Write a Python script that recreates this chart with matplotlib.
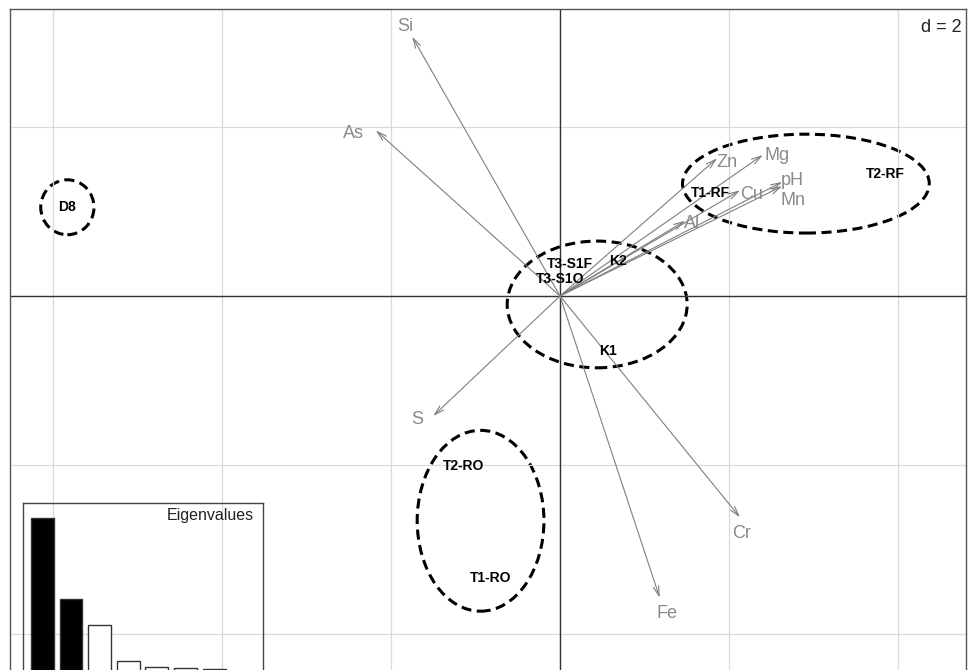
import matplotlib
matplotlib.use("Agg")
import matplotlib.pyplot as plt
from matplotlib.patches import Ellipse

plt.rcParams["font.family"] = ["Liberation Sans", "DejaVu Sans"]

# variable loadings (arrow tips)
variables = ["Si", "As", "Zn", "Mg", "pH", "Mn", "Cu", "Al", "S", "Fe", "Cr"]
var_x = [-1.75, -2.18, 1.86, 2.40, 2.63, 2.63, 2.13, 1.48, -1.50, 1.18, 2.13]
var_y = [3.07, 1.96, 1.63, 1.67, 1.35, 1.30, 1.25, 0.89, -1.42, -3.57, -2.62]

# sample scores
samples = ["D8", "T1-RF", "T2-RF", "T3-S1F", "T3-S1O", "K2", "K1", "T2-RO", "T1-RO"]
samp_x = [-5.83, 1.78, 3.85, 0.12, 0.00, 0.69, 0.57, -1.14, -0.82]
samp_y = [1.05, 1.22, 1.44, 0.38, 0.20, 0.41, -0.65, -2.01, -3.34]

# group ellipses: centre, width, height
ell_x = [-5.83, 2.91, 0.44, -0.94]
ell_y = [1.05, 1.33, -0.10, -2.66]
ell_w = [0.63, 2.92, 2.13, 1.50]
ell_h = [0.65, 1.17, 1.50, 2.14]

eigenvalues = [3.34, 1.72, 1.20, 0.48, 0.36, 0.35, 0.32]
n_kept = 2

# label offsets (pixels) from the arrow tips
lab_off = {"Si": (-7, 10), "As": (-22, -3), "Zn": (10, -4), "Mg": (14, -1),
           "pH": (10, 1), "Mn": (11, -14), "Cu": (12, -4), "Al": (7, -3),
           "S": (-16, -4), "Fe": (7, -16), "Cr": (2, -16)}

W, H = 971, 670
fig = plt.figure(figsize=(W / 100, H / 100), dpi=100)

# main panel, lower edge runs off the figure
left, right, top, bottom = 10, 966, 9, 690
ox, oy, unit = 560, 296, 84.5
ax = fig.add_axes([left / W, (H - bottom) / H, (right - left) / W, (bottom - top) / H])
ax.set_xlim((left - ox) / unit, (right - ox) / unit)
ax.set_ylim((oy - bottom) / unit, (oy - top) / unit)
ax.set_xticks([-6, -4, -2, 0, 2, 4])
ax.set_yticks([-4, -2, 0, 2])
ax.grid(True, color="#dadada", lw=0.9)
ax.tick_params(length=0, labelbottom=False, labelleft=False)
for s in ax.spines.values():
    s.set_color("#555555")
    s.set_linewidth(1.0)
ax.axhline(0, color="#333333", lw=1.0)
ax.axvline(0, color="#333333", lw=1.0)

for name, x, y in zip(variables, var_x, var_y):
    ax.annotate("", xy=(x, y), xytext=(0, 0),
                arrowprops=dict(arrowstyle="->,head_length=0.7,head_width=0.2",
                                color="#7f7f7f", lw=0.8, shrinkA=0, shrinkB=0))
    ax.annotate(name, xy=(x, y), xytext=lab_off[name], textcoords="offset pixels",
                ha="center", va="center", fontsize=13, color="#8a8a8a")

for cx, cy, w, h in zip(ell_x, ell_y, ell_w, ell_h):
    ax.add_patch(Ellipse((cx, cy), w, h, fill=False, ec="black", lw=2.2,
                         ls=(0, (3.3, 1.8))))

for name, x, y in zip(samples, samp_x, samp_y):
    ax.text(x, y, name, ha="center", va="center", fontsize=10,
            fontweight="bold", color="black")

ax.text(0.995, 0.985, "d = 2", transform=ax.transAxes, ha="right", va="top",
        fontsize=13, color="#222222",
        bbox=dict(facecolor="white", edgecolor="none", pad=1.5))

# eigenvalue inset
il, ir, it, ib = 23, 263, 503, 690
ins = fig.add_axes([il / W, (H - ib) / H, (ir - il) / W, (ib - it) / H])
ins.patch.set_alpha(0)
cols = ["black" if i < n_kept else "white" for i in range(len(eigenvalues))]
ins.bar(range(len(eigenvalues)), eigenvalues, width=0.8, color=cols,
        edgecolor="#333333", lw=1.0)
ins.set_xlim(-0.68, 7.71)
ins.set_ylim(-0.1, 3.64)
ins.set_xticks([])
ins.set_yticks([])
for s in ins.spines.values():
    s.set_color("#444444")
    s.set_linewidth(1.0)
ins.text(0.96, 0.935, "Eigenvalues", transform=ins.transAxes, ha="right",
         va="center", fontsize=11.5, color="#222222")

fig.savefig("out.png", dpi=100)
